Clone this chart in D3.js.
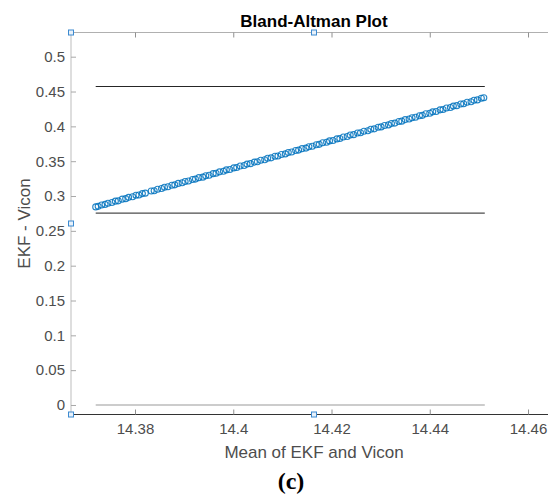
<!DOCTYPE html>
<html>
<head>
<meta charset="utf-8">
<script src="https://cdn.jsdelivr.net/npm/d3@7"></script>
<style>
  html, body { margin: 0; padding: 0; background: #fff; }
  svg { display: block; overflow: hidden; font-family: "Liberation Sans", Arial, sans-serif; }
</style>
</head>
<body>
<svg id="chart" width="548" height="495"></svg>
<script>
// mean of EKF and Vicon (x) and EKF - Vicon (y)
const meanVals = [
  14.3720, 14.3725, 14.3732, 14.3739, 14.3745, 14.3753, 14.3760, 14.3766, 14.3774, 14.3781,
  14.3787, 14.3795, 14.3802, 14.3808, 14.3815, 14.3821, 14.3833, 14.3839, 14.3846, 14.3854,
  14.3860, 14.3867, 14.3875, 14.3881, 14.3888, 14.3896, 14.3902, 14.3909, 14.3917, 14.3923,
  14.3930, 14.3938, 14.3944, 14.3951, 14.3959, 14.3965, 14.3972, 14.3980, 14.3986, 14.3993,
  14.4001, 14.4007, 14.4014, 14.4022, 14.4028, 14.4035, 14.4043, 14.4049, 14.4056, 14.4064,
  14.4070, 14.4077, 14.4085, 14.4091, 14.4098, 14.4106, 14.4112, 14.4119, 14.4127, 14.4133,
  14.4140, 14.4148, 14.4154, 14.4161, 14.4169, 14.4175, 14.4182, 14.4190, 14.4196, 14.4203,
  14.4211, 14.4217, 14.4224, 14.4232, 14.4238, 14.4245, 14.4253, 14.4259, 14.4266, 14.4274,
  14.4280, 14.4287, 14.4295, 14.4301, 14.4308, 14.4316, 14.4322, 14.4329, 14.4337, 14.4343,
  14.4350, 14.4358, 14.4364, 14.4371, 14.4379, 14.4385, 14.4392, 14.4400, 14.4406, 14.4413,
  14.4421, 14.4427, 14.4434, 14.4442, 14.4448, 14.4455, 14.4463, 14.4469, 14.4476, 14.4484,
  14.4490, 14.4497, 14.4505, 14.4510
];
const diffVals = [
  0.2844, 0.2852, 0.2871, 0.2880, 0.2897, 0.2906, 0.2926, 0.2931, 0.2955, 0.2962,
  0.2981, 0.2990, 0.3010, 0.3014, 0.3035, 0.3041, 0.3072, 0.3076, 0.3098, 0.3107,
  0.3125, 0.3132, 0.3155, 0.3160, 0.3181, 0.3190, 0.3209, 0.3216, 0.3238, 0.3243,
  0.3264, 0.3271, 0.3292, 0.3298, 0.3321, 0.3326, 0.3347, 0.3355, 0.3375, 0.3381,
  0.3404, 0.3409, 0.3431, 0.3438, 0.3458, 0.3465, 0.3487, 0.3492, 0.3513, 0.3520,
  0.3542, 0.3548, 0.3571, 0.3575, 0.3597, 0.3605, 0.3625, 0.3631, 0.3654, 0.3659,
  0.3680, 0.3688, 0.3708, 0.3714, 0.3737, 0.3742, 0.3764, 0.3771, 0.3791, 0.3797,
  0.3820, 0.3825, 0.3847, 0.3855, 0.3875, 0.3881, 0.3904, 0.3908, 0.3930, 0.3938,
  0.3958, 0.3964, 0.3987, 0.3992, 0.4013, 0.4021, 0.4041, 0.4047, 0.4070, 0.4075,
  0.4097, 0.4105, 0.4124, 0.4130, 0.4153, 0.4158, 0.4180, 0.4188, 0.4208, 0.4214,
  0.4237, 0.4241, 0.4263, 0.4271, 0.4291, 0.4297, 0.4320, 0.4325, 0.4346, 0.4354,
  0.4374, 0.4380, 0.4403, 0.4410
];
// horizontal reference lines: upper limit, lower limit, zero
const refLevels = [0.4572, 0.2754, 0];
const refColors = ["#262626", "#4d4d4d", "#9a9a9a"];
const refRange = [14.372, 14.4512];

const xTicks = [14.38, 14.40, 14.42, 14.44, 14.46];
const xTickLabels = ["14.38", "14.4", "14.42", "14.44", "14.46"];
const yTicks = [0, 0.05, 0.1, 0.15, 0.2, 0.25, 0.3, 0.35, 0.4, 0.45, 0.5];
const yTickLabels = ["0", "0.05", "0.1", "0.15", "0.2", "0.25", "0.3", "0.35", "0.4", "0.45", "0.5"];

const MARGIN = { top: 32.5, left: 71 };
const plotW = 486, plotH = 382;
const SANS = "Liberation Sans, Arial, sans-serif";

const svg = d3.select("#chart");

const x = d3.scaleLinear().domain([14.36697, 14.4659]).range([MARGIN.left, MARGIN.left + plotW]);
const y = d3.scaleLinear().domain([-0.01364, 0.53474]).range([MARGIN.top + plotH, MARGIN.top]);

const bottom = MARGIN.top + plotH;
const right = MARGIN.left + plotW;

// top box line with ticks
const topAxis = svg.append("g")
  .attr("transform", `translate(0,${MARGIN.top})`)
  .call(d3.axisTop(x).tickValues(xTicks).tickSize(-5).tickFormat(""));
topAxis.select(".domain").attr("stroke", "#b0b0b0").attr("d", `M${MARGIN.left},0H${right}`);
topAxis.selectAll(".tick line").attr("stroke", "#909090");

// left axis
const leftAxis = svg.append("g")
  .attr("transform", `translate(${MARGIN.left},0)`)
  .call(d3.axisLeft(y).tickValues(yTicks).tickSize(-5).tickPadding(6)
    .tickFormat((d, i) => yTickLabels[i]));
leftAxis.select(".domain").attr("stroke", "#bdbdbd").attr("d", `M0,${MARGIN.top}V${bottom}`);
leftAxis.selectAll(".tick line").attr("stroke", "#a8a8a8");
leftAxis.selectAll(".tick text")
  .attr("fill", "#4d4d4d").attr("font-size", 15).attr("font-family", SANS);

// bottom axis
const bottomAxis = svg.append("g")
  .attr("transform", `translate(0,${bottom})`)
  .call(d3.axisBottom(x).tickValues(xTicks).tickSize(-5).tickPadding(9)
    .tickFormat((d, i) => xTickLabels[i]));
bottomAxis.select(".domain").attr("stroke", "#333").attr("d", `M${MARGIN.left},0H${right}`);
bottomAxis.selectAll(".tick line").attr("stroke", "#909090");
bottomAxis.selectAll(".tick text")
  .attr("fill", "#4d4d4d").attr("font-size", 15).attr("font-family", SANS);

// reference lines
svg.append("g").selectAll("line")
  .data(refLevels)
  .join("line")
  .attr("x1", x(refRange[0]))
  .attr("x2", x(refRange[1]))
  .attr("y1", d => y(d))
  .attr("y2", d => y(d))
  .attr("stroke", (d, i) => refColors[i])
  .attr("stroke-width", 1.2);

// scatter
svg.append("g").selectAll("circle")
  .data(meanVals)
  .join("circle")
  .attr("cx", d => x(d))
  .attr("cy", (d, i) => y(diffVals[i]))
  .attr("r", 3)
  .attr("fill", "none")
  .attr("stroke", "#0072BD")
  .attr("stroke-opacity", 0.85)
  .attr("stroke-width", 1.1);

// titles
svg.append("text")
  .attr("x", MARGIN.left + plotW / 2).attr("y", 27)
  .attr("text-anchor", "middle").attr("font-family", SANS)
  .attr("font-size", 17).attr("font-weight", "bold").attr("fill", "#000")
  .text("Bland-Altman Plot");

svg.append("text")
  .attr("x", MARGIN.left + plotW / 2).attr("y", 458)
  .attr("text-anchor", "middle").attr("font-family", SANS)
  .attr("font-size", 17).attr("fill", "#4d4d4d")
  .text("Mean of EKF and Vicon");

svg.append("text")
  .attr("transform", `translate(30,${MARGIN.top + plotH / 2}) rotate(-90)`)
  .attr("text-anchor", "middle").attr("font-family", SANS)
  .attr("font-size", 17).attr("fill", "#4d4d4d")
  .text("EKF - Vicon");

svg.append("text")
  .attr("x", 291).attr("y", 489)
  .attr("text-anchor", "middle")
  .style("font-family", "'Liberation Serif', 'Times New Roman', serif")
  .attr("font-size", 24).attr("font-weight", "bold").attr("fill", "#000")
  .text("(c)");

// selection handles of the axes box
const handles = [
  [MARGIN.left, MARGIN.top], [MARGIN.left + plotW / 2, MARGIN.top],
  [MARGIN.left, MARGIN.top + plotH / 2],
  [MARGIN.left, bottom], [MARGIN.left + plotW / 2, bottom]
];
svg.append("g").selectAll("rect")
  .data(handles)
  .join("rect")
  .attr("x", d => d[0] - 2.5).attr("y", d => d[1] - 2.5)
  .attr("width", 5).attr("height", 5)
  .attr("fill", "#e8f1fa").attr("stroke", "#3c8ad0").attr("stroke-width", 1);
</script>
</body>
</html>
